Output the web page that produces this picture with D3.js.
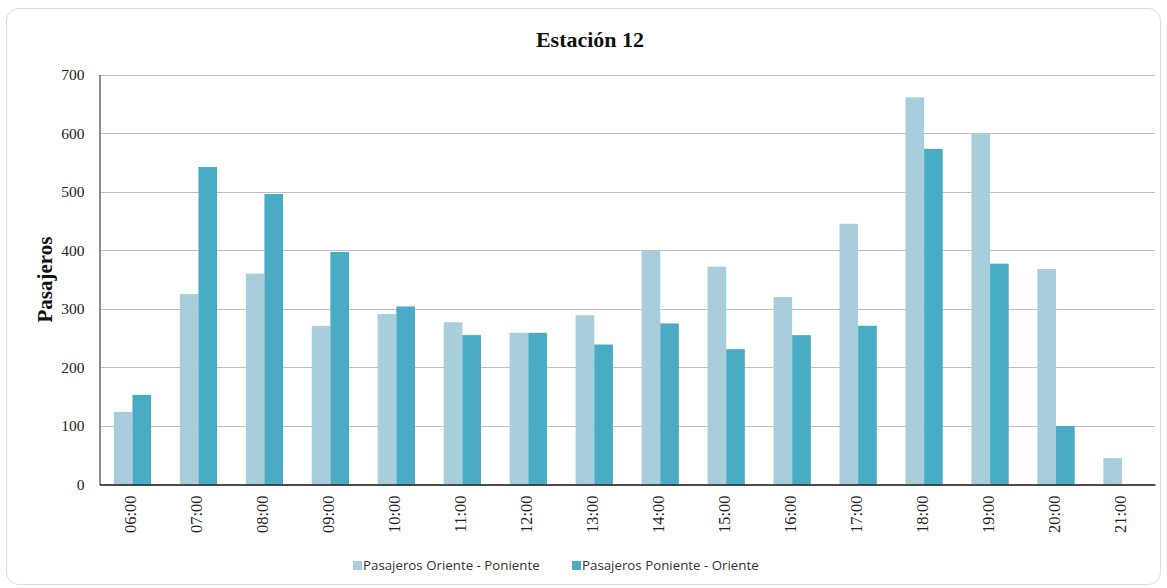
<!DOCTYPE html>
<html>
<head>
<meta charset="utf-8">
<script src="https://cdn.jsdelivr.net/npm/d3@7"></script>
<style>
  html, body { margin: 0; padding: 0; background: #ffffff; }
  svg { display: block; }
</style>
</head>
<body>
<svg id="chart" width="1167" height="588"></svg>
<script>
const categories = ["06:00","07:00","08:00","09:00","10:00","11:00","12:00","13:00","14:00","15:00","16:00","17:00","18:00","19:00","20:00","21:00"];
const seriesNames = ["Pasajeros Oriente - Poniente", "Pasajeros Poniente - Oriente"];
const orientePoniente = [124, 325, 360, 271, 291, 277, 259, 289, 399, 372, 320, 445, 661, 600, 368, 45];
const ponienteOriente = [153, 542, 496, 397, 304, 255, 259, 239, 275, 231, 255, 271, 573, 377, 100, null];
const yTicks = [0, 100, 200, 300, 400, 500, 600, 700];
const colors = ["#a8cedc", "#4aabc5"];
const title = "Estación 12";
const yLabel = "Pasajeros";

const svg = d3.select("#chart");
const margin = { left: 99.5, right: 1155, top: 74.5, bottom: 484.5 };
const serif = "'Liberation Serif', 'Times New Roman', serif";

// frame
svg.append("rect")
  .attr("x", 6.5).attr("y", 8.5)
  .attr("width", 1154).attr("height", 576)
  .attr("rx", 12).attr("ry", 12)
  .attr("fill", "#ffffff")
  .attr("stroke", "#dcdcdc").attr("stroke-width", 1);

const x0 = d3.scaleBand().domain(categories).range([margin.left, margin.right]).paddingInner(0.435).paddingOuter(0.2175);
const x1 = d3.scaleBand().domain([0, 1]).range([0, x0.bandwidth()]);
const y = d3.scaleLinear().domain([0, 700]).range([margin.bottom, margin.top]);

// gridlines
svg.append("g").selectAll("line").data(yTicks.filter(d => d > 0)).join("line")
  .attr("x1", margin.left).attr("x2", margin.right)
  .attr("y1", d => Math.round(y(d)) + 0.5).attr("y2", d => Math.round(y(d)) + 0.5)
  .attr("stroke", "#bfbfbf").attr("stroke-width", 1);

// bars
const series = [orientePoniente, ponienteOriente];
series.forEach((vals, si) => {
  svg.append("g").selectAll("rect").data(categories.map((c, i) => ({ c, v: vals[i] })).filter(d => d.v != null))
    .join("rect")
    .attr("x", d => x0(d.c) + x1(si))
    .attr("width", x1.bandwidth())
    .attr("y", d => y(d.v))
    .attr("height", d => y(0) - y(d.v))
    .attr("fill", colors[si]);
});

// y axis
const yAxis = d3.axisLeft(y).tickValues(yTicks).tickSize(0).tickPadding(15);
const gy = svg.append("g").attr("transform", `translate(${margin.left},0)`).call(yAxis);
gy.select(".domain").attr("stroke", "#666666").attr("stroke-width", 1.5);
gy.selectAll("text")
  .attr("font-family", serif)
  .attr("font-size", 15.5).attr("fill", "#222");

// x axis
const xAxis = d3.axisBottom(x0).tickSize(0).tickPadding(0);
const gx = svg.append("g").attr("transform", `translate(0,${margin.bottom})`).call(xAxis);
gx.select(".domain").attr("stroke", "#111").attr("stroke-width", 1.5);
gx.selectAll("text")
  .attr("font-family", serif)
  .attr("font-size", 16.5).attr("fill", "#222")
  .attr("text-anchor", "end")
  .attr("transform", "rotate(-90)")
  .attr("x", -11).attr("y", -2)
  .attr("dy", "0.35em");

// title
svg.append("text")
  .attr("x", 590).attr("y", 47)
  .attr("text-anchor", "middle")
  .attr("font-family", serif)
  .attr("font-weight", "bold").attr("font-size", 22).attr("fill", "#111")
  .text(title);

// y label
svg.append("text")
  .attr("transform", `translate(52,${(margin.top + margin.bottom) / 2}) rotate(-90)`)
  .attr("text-anchor", "middle")
  .attr("font-family", serif)
  .attr("font-weight", "bold").attr("font-size", 21).attr("fill", "#111")
  .text(yLabel);

// legend
const legendX = [353, 572];
const lg = svg.append("g");
seriesNames.forEach((name, i) => {
  lg.append("rect").attr("x", legendX[i]).attr("y", 561).attr("width", 9).attr("height", 9).attr("fill", colors[i]);
  lg.append("text").attr("x", legendX[i] + 10).attr("y", 570)
    .attr("font-family", "'Open Sans', 'Noto Sans', sans-serif")
    .attr("font-size", 13.3).attr("fill", "#333")
    .text(name);
});
</script>
</body>
</html>
